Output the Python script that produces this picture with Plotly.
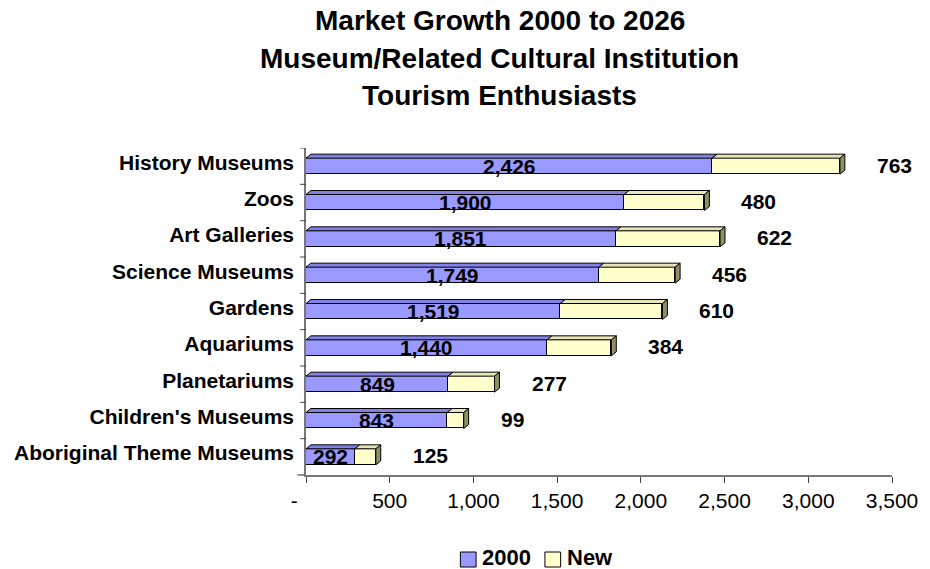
import plotly.graph_objects as go

# Institution types, listed bottom to top
categories = [
    "Aboriginal Theme Museums",
    "Children's Museums",
    "Planetariums",
    "Aquariums",
    "Gardens",
    "Science Museums",
    "Art Galleries",
    "Zoos",
    "History Museums",
]
base_2000 = [292, 843, 849, 1440, 1519, 1749, 1851, 1900, 2426]
new_growth = [125, 99, 277, 384, 610, 456, 622, 480, 763]

x_tickvals = [0, 500, 1000, 1500, 2000, 2500, 3000, 3500]
x_ticktext = ["-\u00a0\u00a0\u00a0\u00a0", "500", "1,000", "1,500", "2,000", "2,500", "3,000", "3,500"]

title_lines = [
    "Market Growth 2000 to 2026",
    "Museum/Related Cultural Institution",
    "Tourism Enthusiasts",
]
series_names = ["2000", "New"]

FONT = "Liberation Sans, Arial, sans-serif"
BLUE, BLUE_TOP = "#9999FF", "#8282E6"
YEL, YEL_TOP, YEL_SIDE = "#FFFFCC", "#E6E6B8", "#8F8F66"

W, H = 930, 569
L, R, T, B = 306, 28, 148, 94
XMAX = 3500
BAR_W = 0.44
PW, PH = W - L - R, H - T - B
px_per_x = PW / XMAX
px_per_cat = PH / len(categories)
DX = 5 / px_per_x      # depth offset in data units
DY = 4 / px_per_cat    # depth offset in category units


def px_to_paper(px, py):
    return (px - L) / PW, (H - B - py) / PH


fig = go.Figure()
idx = list(range(len(categories)))
for vals, name, col in [(base_2000, series_names[0], BLUE), (new_growth, series_names[1], YEL)]:
    fig.add_trace(go.Bar(
        y=idx, x=vals, orientation="h", name=name, width=BAR_W,
        marker=dict(color=col, line=dict(color="black", width=1)),
        showlegend=False, hoverinfo="x+name",
    ))


def poly(pts):
    return "M " + " L ".join(f"{x},{y}" for x, y in pts) + " Z"


shapes = []
annotations = []
for i, (b, n) in enumerate(zip(base_2000, new_growth)):
    top = i + BAR_W / 2
    bot = i - BAR_W / 2
    end = b + n
    # top faces
    shapes.append(dict(type="path", xref="x", yref="y",
                       path=poly([(0, top), (DX, top + DY), (b + DX, top + DY), (b, top)]),
                       fillcolor=BLUE_TOP, line=dict(color="black", width=1)))
    shapes.append(dict(type="path", xref="x", yref="y",
                       path=poly([(b, top), (b + DX, top + DY), (end + DX, top + DY), (end, top)]),
                       fillcolor=YEL_TOP, line=dict(color="black", width=1)))
    # right end face
    shapes.append(dict(type="path", xref="x", yref="y",
                       path=poly([(end, bot), (end, top), (end + DX, top + DY), (end + DX, bot + DY)]),
                       fillcolor=YEL_SIDE, line=dict(color="black", width=1)))
    annotations.append(dict(x=b / 2, y=i, xref="x", yref="y", text=f"{b:,}",
                            showarrow=False, yshift=0,
                            font=dict(family=FONT, size=21, color="black", weight="bold")))
    annotations.append(dict(x=end, y=i, xref="x", yref="y", text=f"{n:,}",
                            showarrow=False, xanchor="left", xshift=35, yshift=1,
                            font=dict(family=FONT, size=21, color="black", weight="bold")))

# three-line title
for line, yp in zip(title_lines, [20, 58, 96]):
    tx, ty = px_to_paper(503, yp)
    annotations.append(dict(x=tx, y=ty, xref="paper", yref="paper", text=f"<b>{line}</b>",
                            showarrow=False, xanchor="center", yanchor="middle",
                            font=dict(family=FONT, size=28, color="black")))

# legend: swatches plus labels
for (sx0, sx1, tx), name, col in zip([(463, 479, 484), (549, 565, 570)], series_names, [BLUE, YEL]):
    x0, y0 = px_to_paper(sx0, 567)
    x1, y1 = px_to_paper(sx1, 552)
    shapes.append(dict(type="rect", xref="paper", yref="paper", x0=x0, x1=x1, y0=y0, y1=y1,
                       fillcolor=col, line=dict(color="black", width=1)))
    lx, ly = px_to_paper(tx, 557)
    annotations.append(dict(x=lx, y=ly, xref="paper", yref="paper", text=f"<b>{name}</b>",
                            showarrow=False, xanchor="left", yanchor="middle", borderpad=0,
                            font=dict(family=FONT, size=22, color="black")))

# boundary tick marks on the category axis
for k in range(len(categories) + 1):
    shapes.append(dict(type="line", xref="paper", yref="y", x0=px_to_paper(300, 0)[0], x1=0,
                       y0=k - 0.5, y1=k - 0.5, line=dict(color="#444444", width=1)))
# floor edge extending left of the value axis origin
shapes.append(dict(type="line", xref="paper", yref="paper", x0=px_to_paper(297, 0)[0], x1=0,
                   y0=0, y1=0, line=dict(color="#777777", width=1.5)))

fig.update_layout(
    width=W, height=H,
    margin=dict(l=L, r=R, t=T, b=B, pad=0),
    paper_bgcolor="white", plot_bgcolor="white",
    barmode="stack", bargap=0,
    showlegend=False,
    shapes=shapes,
    annotations=annotations,
    xaxis=dict(range=[0, XMAX], tickvals=x_tickvals, ticktext=x_ticktext,
               showgrid=False, zeroline=False, showline=True, linecolor="#777777",
               linewidth=1.5, ticks="outside", ticklen=6, tickcolor="#444444",
               tickfont=dict(family=FONT, size=21, color="black"),
               ticklabelstandoff=0, fixedrange=True),
    yaxis=dict(tickvals=idx, ticktext=categories, range=[-0.5, len(categories) - 0.5],
               showgrid=False, zeroline=False, showline=True, linecolor="#777777",
               linewidth=1.5, ticks="",
               tickfont=dict(family=FONT, size=21, color="black", weight="bold"),
               ticklabelstandoff=6, ticklabelshift=-4, fixedrange=True),
)

fig.write_html("out.html")
